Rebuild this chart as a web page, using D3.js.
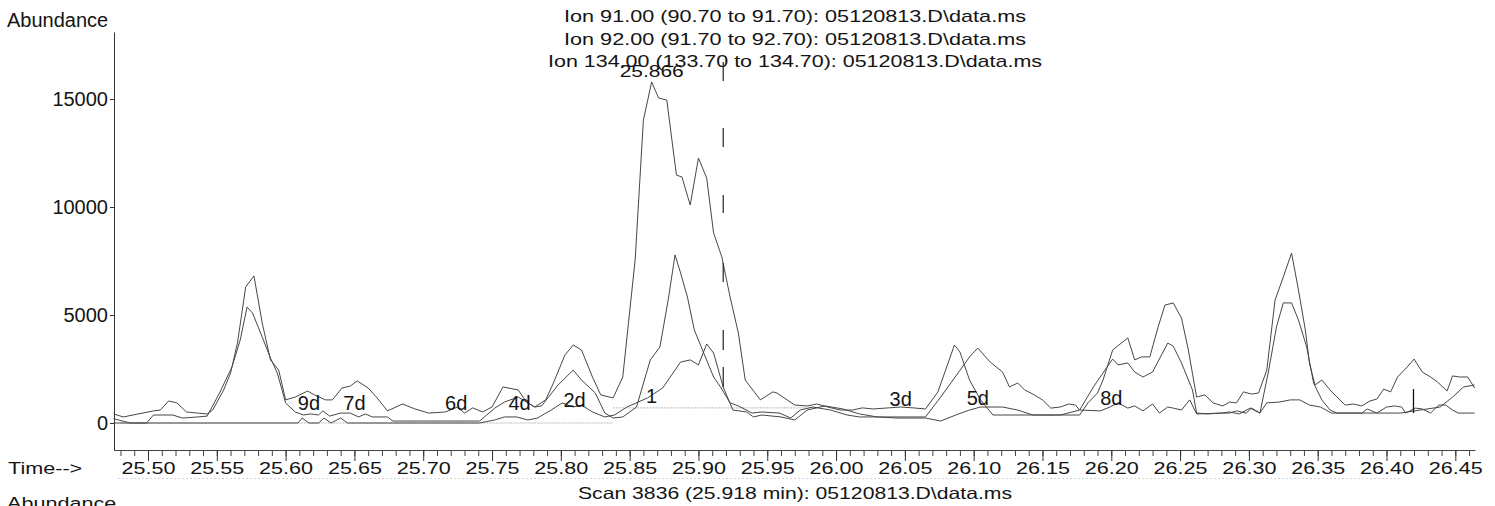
<!DOCTYPE html>
<html><head><meta charset="utf-8">
<script src="https://cdn.jsdelivr.net/npm/d3@7"></script>
<style>
html,body{margin:0;padding:0;background:#fff;}
svg{display:block;}
text{font-family:"Liberation Sans", Arial, sans-serif; fill:#141414;}
</style></head><body>
<svg id="chart" width="1495" height="506"></svg>
<script>
// ---- data (time in min, abundance) ----
const ion91 = [
[25.475,420],[25.482,280],[25.504,560],[25.509,600],[25.515,1020],[25.521,930],[25.528,510],[25.536,460],
[25.543,420],[25.547,600],[25.555,1530],[25.560,2310],[25.565,3700],[25.571,6300],[25.577,6810],[25.583,4630],
[25.589,2920],[25.595,2450],[25.600,1070],[25.607,1200],[25.616,1480],[25.621,1300],[25.629,1070],[25.634,1070],
[25.641,1620],[25.647,1710],[25.652,1950],[25.660,1620],[25.666,1200],[25.674,560],[25.685,880],[25.694,650],
[25.704,460],[25.716,510],[25.725,740],[25.730,460],[25.736,700],[25.743,510],[25.750,740],[25.758,1670],
[25.769,1530],[25.775,970],[25.781,740],[25.789,1070],[25.794,1760],[25.803,3150],[25.809,3610],[25.815,3380],
[25.823,2130],[25.829,1300],[25.838,1160],[25.845,2130],[25.854,7550],[25.860,14030],[25.866,15790],[25.871,15050],
[25.877,14950],[25.884,11480],[25.888,11390],[25.894,10090],[25.900,12270],[25.906,11340],[25.911,8800],[25.917,7690],
[25.923,5830],[25.929,4170],[25.934,1990],[25.945,1070],[25.954,1440],[25.957,1390],[25.970,830],[25.979,790],
[25.986,880],[25.994,740],[26.003,600],[26.012,600],[26.019,700],[26.027,650],[26.038,700],[26.047,740],
[26.056,700],[26.065,650],[26.074,1440],[26.086,3610],[26.090,3290],[26.097,1990],[26.105,1070],[26.114,370],
[26.143,370],[26.177,370],[26.183,930],[26.190,1390],[26.194,1990],[26.201,3380],[26.212,3940],[26.217,2920],
[26.222,3060],[26.228,3060],[26.234,4440],[26.239,5460],[26.245,5560],[26.251,4860],[26.256,3380],[26.262,1200],
[26.268,1300],[26.274,930],[26.281,790],[26.286,970],[26.291,930],[26.296,1440],[26.302,1340],[26.307,1390],
[26.313,2450],[26.319,5690],[26.325,6760],[26.331,7870],[26.336,6160],[26.341,4310],[26.344,2780],[26.348,1760],
[26.353,1990],[26.359,1530],[26.364,1200],[26.370,830],[26.376,880],[26.382,790],[26.388,1020],[26.393,1110],
[26.398,1570],[26.403,1440],[26.408,2130],[26.415,2590],[26.420,2960],[26.426,2360],[26.432,2130],[26.437,1900],
[26.444,1480],[26.448,2180],[26.453,2130],[26.459,2130],[26.464,1620]
];
const ion92 = [
[25.475,200],[25.487,0],[25.499,0],[25.504,370],[25.518,370],[25.525,230],[25.536,280],[25.543,320],
[25.552,1390],[25.561,2590],[25.567,3840],[25.572,5370],[25.576,5090],[25.583,3980],[25.589,3010],[25.594,2310],
[25.600,930],[25.607,510],[25.613,370],[25.618,420],[25.624,370],[25.627,560],[25.632,320],[25.640,460],
[25.647,460],[25.653,280],[25.658,420],[25.663,280],[25.674,280],[25.678,90],[25.741,90],[25.752,690],
[25.759,970],[25.769,1200],[25.775,970],[25.781,740],[25.786,790],[25.791,1200],[25.798,1760],[25.809,2450],
[25.815,1990],[25.825,1390],[25.832,460],[25.838,230],[25.845,280],[25.855,740],[25.865,2920],[25.872,3520],
[25.878,5690],[25.883,7780],[25.887,6950],[25.892,5830],[25.897,4310],[25.905,3060],[25.911,2130],[25.916,1670],
[25.923,930],[25.929,790],[25.939,460],[25.946,510],[25.959,460],[25.967,230],[25.974,600],[25.983,740],
[25.996,600],[26.008,370],[26.017,280],[26.065,280],[26.076,1200],[26.086,2080],[26.097,3060],[26.103,3470],
[26.112,2820],[26.121,2360],[26.126,1670],[26.132,1850],[26.137,1530],[26.143,1340],[26.150,1070],[26.156,690],
[26.163,740],[26.169,880],[26.174,830],[26.177,600],[26.187,1670],[26.201,2960],[26.205,2690],[26.212,2780],
[26.217,2360],[26.223,2130],[26.230,2360],[26.241,3700],[26.245,3560],[26.251,2780],[26.259,1530],[26.262,460],
[26.270,420],[26.280,460],[26.286,510],[26.293,420],[26.301,690],[26.308,460],[26.314,2310],[26.320,4440],
[26.325,5560],[26.331,5560],[26.336,4770],[26.342,3520],[26.347,1850],[26.353,1070],[26.359,600],[26.364,460],
[26.410,460],[26.439,740],[26.448,1200],[26.456,1670],[26.464,1760]
];
const ion134 = [
[25.475,0],[25.609,0],[25.612,230],[25.617,0],[25.624,0],[25.628,230],[25.633,0],[25.640,230],[25.645,0],
[25.741,0],[25.752,140],[25.759,280],[25.768,280],[25.776,140],[25.783,230],[25.793,600],[25.801,930],[25.809,740],
[25.815,830],[25.823,510],[25.832,280],[25.839,370],[25.848,740],[25.863,1160],[25.874,1620],[25.887,2820],
[25.894,2920],[25.900,2690],[25.906,3660],[25.911,3240],[25.918,1670],[25.925,600],[25.935,510],[25.940,280],
[25.946,370],[25.960,280],[25.970,140],[25.979,600],[25.992,790],[26.005,650],[26.017,420],[26.030,280],
[26.045,230],[26.065,230],[26.076,90],[26.087,370],[26.097,600],[26.105,740],[26.121,740],[26.132,600],
[26.143,370],[26.163,370],[26.177,600],[26.192,560],[26.199,740],[26.205,930],[26.212,690],[26.217,790],
[26.223,560],[26.230,880],[26.235,460],[26.241,740],[26.245,690],[26.251,600],[26.257,1070],[26.262,420],
[26.281,460],[26.286,460],[26.291,560],[26.298,460],[26.302,690],[26.308,460],[26.313,930],[26.322,970],
[26.330,1070],[26.337,1070],[26.344,830],[26.352,740],[26.360,460],[26.382,460],[26.386,650],[26.393,460],
[26.400,740],[26.406,790],[26.411,740],[26.414,460],[26.421,690],[26.426,650],[26.432,460],[26.438,830],
[26.443,830],[26.448,600],[26.452,460],[26.464,460]
];
const baselineSegments = [[25.480,25.838,0],[25.838,25.985,700]];
const titleLines = [
  "Ion  91.00 (90.70 to 91.70): 05120813.D\\data.ms",
  "Ion  92.00 (91.70 to 92.70): 05120813.D\\data.ms",
  "Ion 134.00 (133.70 to 134.70): 05120813.D\\data.ms"
];
const yTicks = [0, 5000, 10000, 15000];
const xMajorTicks = [25.50,25.55,25.60,25.65,25.70,25.75,25.80,25.85,25.90,25.95,26.00,26.05,26.10,26.15,26.20,26.25,26.30,26.35,26.40,26.45];
const peakLabels = ["9d","7d","6d","4d","2d","1","3d","5d","8d"];
const peakLabelTimes = [25.617,25.650,25.724,25.770,25.810,25.866,26.047,26.103,26.200];
const peakLabelValues = [600,600,600,600,740,930,790,830,830];
const apexLabel = "25.866", apexTime = 25.866, apexValue = 15790;
const scanTime = 25.918, scanMarkerRange = [16710, 1670];
const spikeTime = 26.4196, spikeRange = [460, 1570];
const scanLabel = "Scan 3836 (25.918 min): 05120813.D\\data.ms";

// ---- drawing ----
const svg = d3.select("#chart");
const x = d3.scaleLinear().domain([25.4753, 26.4643]).range([114, 1475]);
const y = d3.scaleLinear().domain([-1250, 18103]).range([450, 32]);
const SX = 1.31;

// faint scan artefact line under tick labels
svg.append("line").attr("x1",118).attr("x2",1400).attr("y1",478.5).attr("y2",478.5)
  .attr("stroke","#d6d6d6").attr("stroke-dasharray","2,2");

// baselines
svg.append("g").selectAll("line").data(baselineSegments).join("line")
  .attr("x1",d=>x(d[0])).attr("x2",d=>x(d[1])).attr("y1",d=>y(d[2])).attr("y2",d=>y(d[2]))
  .attr("stroke","#b8b8b8").attr("stroke-width",1).attr("stroke-dasharray","2,1");

// axes
const yAxis = d3.axisLeft(y).tickValues(yTicks).tickSize(4).tickSizeOuter(0).tickPadding(2).tickFormat(d3.format("d"));
const gy = svg.append("g").attr("transform","translate(114,0)").call(yAxis);
gy.selectAll("path,line").attr("stroke","#333");
gy.selectAll("text").style("font-size","20px").attr("fill","#141414");

const xMinor = d3.range(25.48, 26.465, 0.01);
const gxm = svg.append("g").attr("transform","translate(0,450)")
  .call(d3.axisBottom(x).tickValues(xMinor).tickSize(6).tickSizeOuter(0).tickFormat(""));
gxm.selectAll("path,line").attr("stroke","#444");
const gx = svg.append("g").attr("transform","translate(0,450)")
  .call(d3.axisBottom(x).tickValues(xMajorTicks).tickSize(11).tickSizeOuter(0).tickFormat(d3.format(".2f")));
gx.selectAll("path,line").attr("stroke","#333");
gx.select("path").remove();
gx.selectAll("text").attr("y",24).attr("dy",null).attr("transform",`scale(${SX},1)`)
  .style("font-size","16.5px").attr("fill","#141414");

// series lines
const line = d3.line().x(d=>x(d[0])).y(d=>y(d[1]));
[ion134, ion92, ion91].forEach(s=>{
  svg.append("path").datum(s).attr("d",line).attr("fill","none")
    .attr("stroke","#474747").attr("stroke-width",1).attr("stroke-linejoin","miter");
});

// scan marker (dashed)
svg.append("line").attr("x1",x(scanTime)).attr("x2",x(scanTime))
  .attr("y1",y(scanMarkerRange[0])).attr("y2",y(scanMarkerRange[1]))
  .attr("stroke","#222").attr("stroke-width",1.2)
  .attr("stroke-dasharray","19,47,19,48,18,50,19,48,20,17,20,100");
// spike marker
svg.append("line").attr("x1",x(spikeTime)).attr("x2",x(spikeTime))
  .attr("y1",y(spikeRange[0])).attr("y2",y(spikeRange[1]))
  .attr("stroke","#111").attr("stroke-width",1.3);

// peak labels
svg.append("g").selectAll("text").data(peakLabels).join("text")
  .attr("x",(d,i)=>x(peakLabelTimes[i])).attr("y",(d,i)=>y(peakLabelValues[i]))
  .attr("text-anchor","middle").style("font-size","20px").text(d=>d);

// titles
const titleY = [22, 44.5, 67];
const titleW = [462, 462, 494];
titleLines.forEach((t,i)=>{
  svg.append("text").attr("x",795 - titleW[i]/2).attr("y",titleY[i])
    .attr("textLength",titleW[i]).attr("lengthAdjust","spacingAndGlyphs")
    .style("font-size","17px").text(t);
});
// apex label
svg.append("text").attr("x",x(apexTime)-32).attr("y",y(apexValue)-5)
  .attr("textLength",64).attr("lengthAdjust","spacingAndGlyphs")
  .style("font-size","16px").text(apexLabel);

// other texts
svg.append("text").attr("x",7).attr("y",27).style("font-size","20px").text("Abundance");
svg.append("text").attr("x",8/SX).attr("y",474).attr("transform",`scale(${SX},1)`)
  .style("font-size","16.5px").text("Time-->");
svg.append("text").attr("x",578).attr("y",499).attr("textLength",434).attr("lengthAdjust","spacingAndGlyphs")
  .style("font-size","16.5px").text(scanLabel);
svg.append("text").attr("x",7/SX).attr("y",509).attr("transform",`scale(${SX},1)`)
  .style("font-size","16.5px").text("Abundance");
</script>
</body></html>
